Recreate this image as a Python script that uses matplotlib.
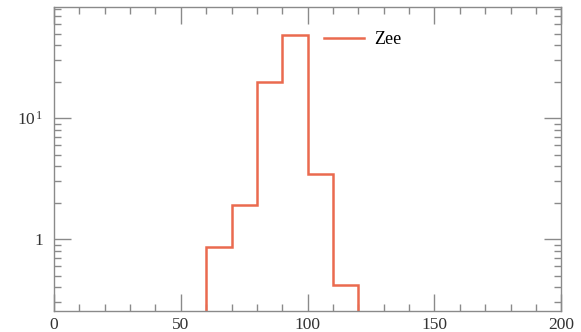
import numpy as np
import matplotlib
matplotlib.use('Agg')
import matplotlib.pyplot as plt
from matplotlib.ticker import MultipleLocator, LogLocator, FixedLocator, FixedFormatter, NullFormatter

plt.rcParams['font.family'] = ['Liberation Serif', 'DejaVu Serif']
plt.rcParams['mathtext.fontset'] = 'custom'
plt.rcParams['mathtext.rm'] = 'Liberation Serif'
plt.rcParams['mathtext.it'] = 'Liberation Serif:italic'

# Zee histogram, 10-wide bins
bin_edges = [60, 70, 80, 90, 100, 110, 120]
counts = [0.86, 1.92, 20.0, 49.0, 3.45, 0.42]

line_col = '#ea6a4f'
axis_col = '#8a8a8a'

fig = plt.figure(figsize=(5.81, 3.32), dpi=100, facecolor='white')
ax = fig.add_axes([0.093, 0.063, 0.873, 0.916])

# step outline that drops to the baseline at both ends
xs = np.repeat(bin_edges, 2)
ys = np.concatenate([[1e-3], np.repeat(counts, 2), [1e-3]])
ax.plot(xs, ys, color=line_col, lw=1.8, label='Zee', solid_joinstyle='miter')

ax.set_yscale('log')
ax.set_xlim(0, 200)
ax.set_ylim(0.254, 83)

ax.xaxis.set_major_locator(MultipleLocator(50))
ax.xaxis.set_minor_locator(MultipleLocator(10))
ax.yaxis.set_major_locator(FixedLocator([1, 10]))
ax.yaxis.set_major_formatter(FixedFormatter(['1', r'$\mathrm{10}^{\,\mathrm{1}}$']))
ax.yaxis.set_minor_locator(LogLocator(base=10, subs=np.arange(2, 10)))
ax.yaxis.set_minor_formatter(NullFormatter())

for s in ax.spines.values():
    s.set_color(axis_col)
    s.set_linewidth(1.0)
ax.tick_params(which='both', direction='in', top=True, right=True, color=axis_col,
               labelsize=12.5, labelcolor='#333333')
ax.tick_params(which='major', length=12, width=1.0, pad=4)
ax.tick_params(which='minor', length=5, width=1.0)
ax.tick_params(axis='y', which='major', pad=8)

ax.legend(loc='upper left', bbox_to_anchor=(0.5, 0.975), frameon=False,
          fontsize=13, handlelength=2.2, handletextpad=0.6)

fig.savefig('out.png', dpi=100, facecolor='white')
